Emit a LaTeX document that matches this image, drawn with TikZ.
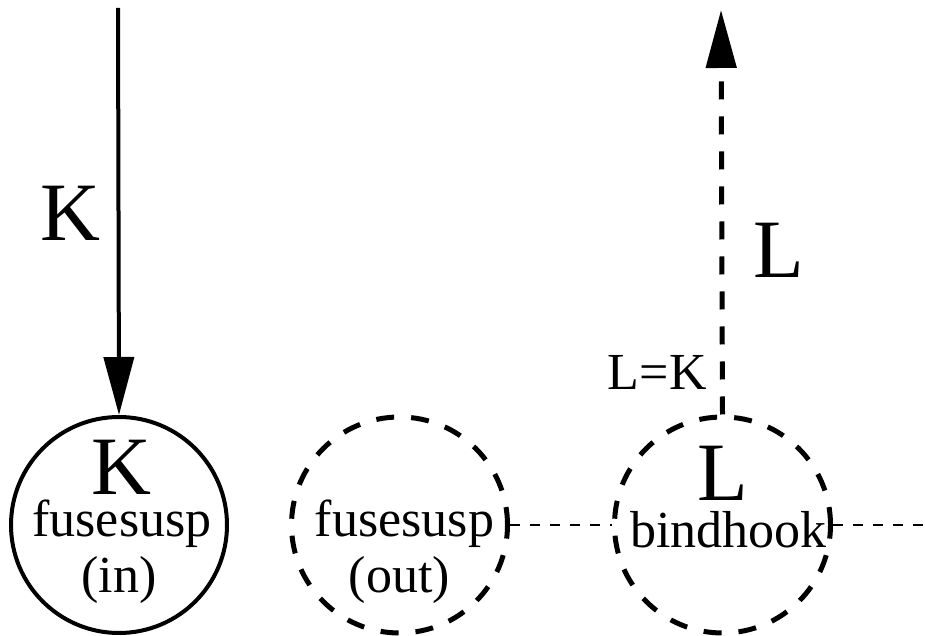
\documentclass[tikz,border=0pt]{standalone}
\usepackage{fontspec}
\setmainfont{Liberation Serif}
\usetikzlibrary{positioning,arrows.meta}

\begin{document}
\begin{tikzpicture}[x=0.5pt, y=0.5pt,
    ring/.style={circle, minimum size=108pt, line width=2pt, draw},
    dashring/.style={ring, line width=2.5pt, dash pattern=on 9pt off 8.5pt},
    bigtxt/.style={font=\fontsize{41.5}{46}\selectfont, inner sep=0pt, anchor=base},
    smalltxt/.style={font=\fontsize{26}{30}\selectfont, inner sep=0pt, anchor=base},
    flow/.style={line width=2pt, -{Triangle[length=29pt,width=15pt]}},
    dashflow/.style={flow, line width=2.5pt, dash pattern=on 9pt off 8.5pt},
    link/.style={line width=0.75pt, dash pattern=on 5pt off 5pt}]
    \useasboundingbox (0,0) rectangle (925,636);

    % Suspensions
    \node [ring] (fin) at (119,111) {};
    \node [dashring, right=30pt of fin] (fout) {};
    \node [dashring, right=51pt of fout] (bind) {};

    \path (fin.center) ++(2,30) node [bigtxt] (kin) {K};
    \path (fin.center) ++(3,-12) node [smalltxt] (fusin) {fusesusp};
    \path (fin.center) ++(0,-68) node [smalltxt] (inlab) {(in)};
    \path (fout.center) ++(5,-12) node [smalltxt] (fusout) {fusesusp};
    \path (fout.center) ++(0,-68) node [smalltxt] (outlab) {(out)};
    \path (bind.center) ++(0,24) node [bigtxt] (lin) {L};
    \path (bind.center) ++(6,-23) node [smalltxt] (hook) {bindhook};

    % Incoming K
    \coordinate (ktop) at (118,628);
    \draw [flow] (ktop) -- (fin.north);
    \node [bigtxt] (klab) at (70,395) {K};

    % Outgoing L
    \coordinate (ltop) at (721,626);
    \draw [dashflow] (bind.north) -- (ltop);
    \node [bigtxt] (llab) at (779,358) {L};
    \node [smalltxt, anchor=base east] (eq) at (707,246) {L=K};

    % Links
    \coordinate (rend) at (925,111);
    \draw [link] (fout.east) -- (bind.west);
    \draw [link] (bind.east) -- (rend);
\end{tikzpicture}
\end{document}
